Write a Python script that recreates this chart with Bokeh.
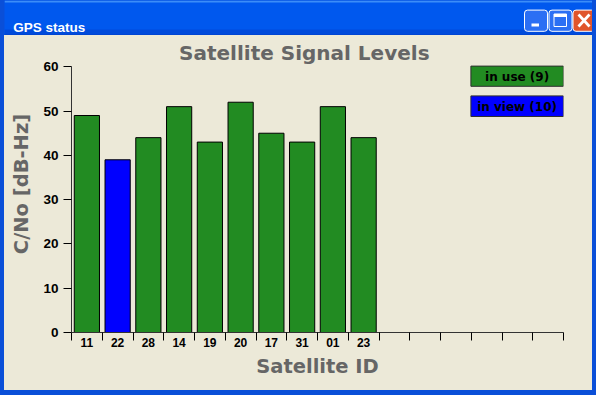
from bokeh.plotting import figure
from bokeh.layouts import column, row
from bokeh.models import Range1d, FixedTicker, BoxAnnotation, Label, PolyAnnotation
from bokeh.embed import file_html
from bokeh.resources import INLINE

# ---- data ----
sat_ids = ["11", "22", "28", "14", "19", "20", "17", "31", "01", "23"]
snr = [49, 39, 44, 51, 43, 52, 45, 43, 51, 44]
in_use = [True, False, True, True, True, True, True, True, True, True]
n_slots = 16
y_ticks = [0, 10, 20, 30, 40, 50, 60]

window_title = "GPS status"
chart_title = "Satellite Signal Levels"
x_label = "Satellite ID"
y_label = "C/No [dB-Hz]"

GREEN = "#228B22"
BLUE = "#0000FF"
BG = "#ECE9D8"
GRAY = "#666666"
XPBLUE = "#0058EE"
XPEDGE = "#0A4FD8"

bar_colors = [GREEN if u else BLUE for u in in_use]
bar_x = [i + 0.5 for i in range(len(sat_ids))]
n_use = sum(1 for u in in_use if u)
n_view = len(sat_ids)

INNER_W = 588
BAR_H = 35
MAIN_H = 355
FRAME_L, AXIS_R, AXIS_B = 67, 559, 297      # canvas px of the axes box
Y60_PX = 31.3                                # canvas y of the 60 tick


def cbox(fig, l, r, t, b, fill, line=None, lw=1, radius=0):
    fig.add_layout(BoxAnnotation(left=l, right=r, top=t, bottom=b,
                                 left_units="canvas", right_units="canvas",
                                 top_units="canvas", bottom_units="canvas",
                                 fill_color=fill, fill_alpha=1 if fill else 0,
                                 line_color=line, line_alpha=1, line_width=lw,
                                 border_radius=radius))


def clabel(fig, x, y, text, size, color, font="DejaVu Sans", align="left",
           baseline="alphabetic"):
    fig.add_layout(Label(x=x, y=y, x_units="canvas", y_units="canvas", text=text,
                         text_font=font, text_font_size=size, text_color=color,
                         text_font_style="bold", text_align=align,
                         text_baseline=baseline))


# ---- window title bar ----
top = figure(width=INNER_W, height=BAR_H, output_backend="svg",
             toolbar_location=None, title=None, min_border=0,
             x_axis_location=None, y_axis_location=None,
             x_range=Range1d(0, INNER_W), y_range=Range1d(BAR_H, 0))
top.background_fill_color = XPBLUE
top.border_fill_color = XPBLUE
top.outline_line_color = None
top.grid.visible = False
cbox(top, 0, INNER_W, 0, 2, "#3C8DF8")
cbox(top, 0, INNER_W, 29, 34, "#004BDB")
cbox(top, 0, INNER_W, 34, 35, "#003AC2")
clabel(top, 8.7, 26.5, window_title, "13.5px", "white", font="Liberation Sans")
# buttons
cbox(top, 520, 543, 9.6, 30.8, "#2B6FF4", line="white", lw=1, radius=3)
cbox(top, 527, 534.5, 23, 26, "white")
cbox(top, 544.5, 567.5, 9.6, 30.8, "#2B6FF4", line="white", lw=1, radius=3)
cbox(top, 549.5, 562, 13.5, 26, None, line="white", lw=1)
cbox(top, 549.5, 562, 13.5, 16.5, "white")
cbox(top, 568.5, 590, 9.6, 30.8, "#E0552C", line="white", lw=1, radius=3)
top.add_layout(PolyAnnotation(xs=[573, 575, 586, 584], ys=[15, 13, 25, 27],
                              xs_units="canvas", ys_units="canvas",
                              fill_color="white", fill_alpha=1, line_color=None))
top.add_layout(PolyAnnotation(xs=[584, 586, 575, 573], ys=[13, 15, 27, 25],
                              xs_units="canvas", ys_units="canvas",
                              fill_color="white", fill_alpha=1, line_color=None))

# ---- main chart ----
y_end = y_ticks[-1] * AXIS_B / (AXIS_B - Y60_PX)
p = figure(width=INNER_W, height=MAIN_H, output_backend="svg", toolbar_location=None,
           title=None, x_range=Range1d(0, n_slots), y_range=Range1d(0, y_end),
           min_border_left=FRAME_L, min_border_right=INNER_W - AXIS_R,
           min_border_top=0, min_border_bottom=MAIN_H - AXIS_B)
p.background_fill_color = None
p.border_fill_color = None
p.outline_line_color = None
p.grid.visible = False

p.vbar(x=bar_x, top=snr, width=0.82, bottom=0, fill_color=bar_colors,
       line_color="black", line_width=1)

xa = p.xaxis[0]
xa.ticker = FixedTicker(ticks=bar_x, minor_ticks=list(range(n_slots + 1)))
xa.major_label_overrides = {bx: s for bx, s in zip(bar_x, sat_ids)}
xa.major_tick_line_color = None
xa.major_tick_out = 0
xa.major_tick_in = 0
xa.minor_tick_line_color = "black"
xa.minor_tick_out = 8
xa.minor_tick_in = 0
xa.major_label_standoff = -3
xa.major_label_text_font = "Liberation Sans"
xa.major_label_text_font_style = "bold"
xa.major_label_text_font_size = "12px"
xa.major_label_text_color = "black"
xa.axis_line_color = "#333333"
xa.axis_label = x_label
xa.axis_label_text_font = "DejaVu Sans"
xa.axis_label_text_font_style = "bold"
xa.axis_label_text_font_size = "19.5px"
xa.axis_label_text_color = GRAY
xa.axis_label_standoff = 5

ya = p.yaxis[0]
ya.ticker = FixedTicker(ticks=y_ticks)
ya.bounds = (y_ticks[0], y_ticks[-1])
ya.minor_tick_line_color = None
ya.major_tick_line_color = "black"
ya.major_tick_out = 8
ya.major_tick_in = 0
ya.major_label_standoff = 5
ya.major_label_text_font = "Liberation Sans"
ya.major_label_text_font_style = "bold"
ya.major_label_text_font_size = "13.5px"
ya.major_label_text_color = "black"
ya.axis_line_color = "#333333"
ya.axis_label = y_label
ya.axis_label_text_font = "DejaVu Sans"
ya.axis_label_text_font_style = "bold"
ya.axis_label_text_font_size = "19.5px"
ya.axis_label_text_color = GRAY
ya.axis_label_standoff = 7

# chart title
clabel(p, 299.8, 17.9, chart_title, "20px", GRAY, align="center")

# legend boxes
cbox(p, 466.4, 558.9, 30.6, 50.8, GREEN, line="#303030")
clabel(p, 512.6, 41, f"in use ({n_use})", "12px", "black", align="center",
       baseline="middle")
cbox(p, 466.4, 558.9, 60.4, 81, BLUE, line="#303030")
clabel(p, 512.6, 71, f"in view ({n_view})", "12px", "black", align="center",
       baseline="middle")

layout = column(top, row(p, styles={"background-color": BG}),
                styles={"background-color": XPEDGE, "padding": "0px 4px 5px 4px"})
open("out.html", "w").write(file_html(layout, INLINE))
